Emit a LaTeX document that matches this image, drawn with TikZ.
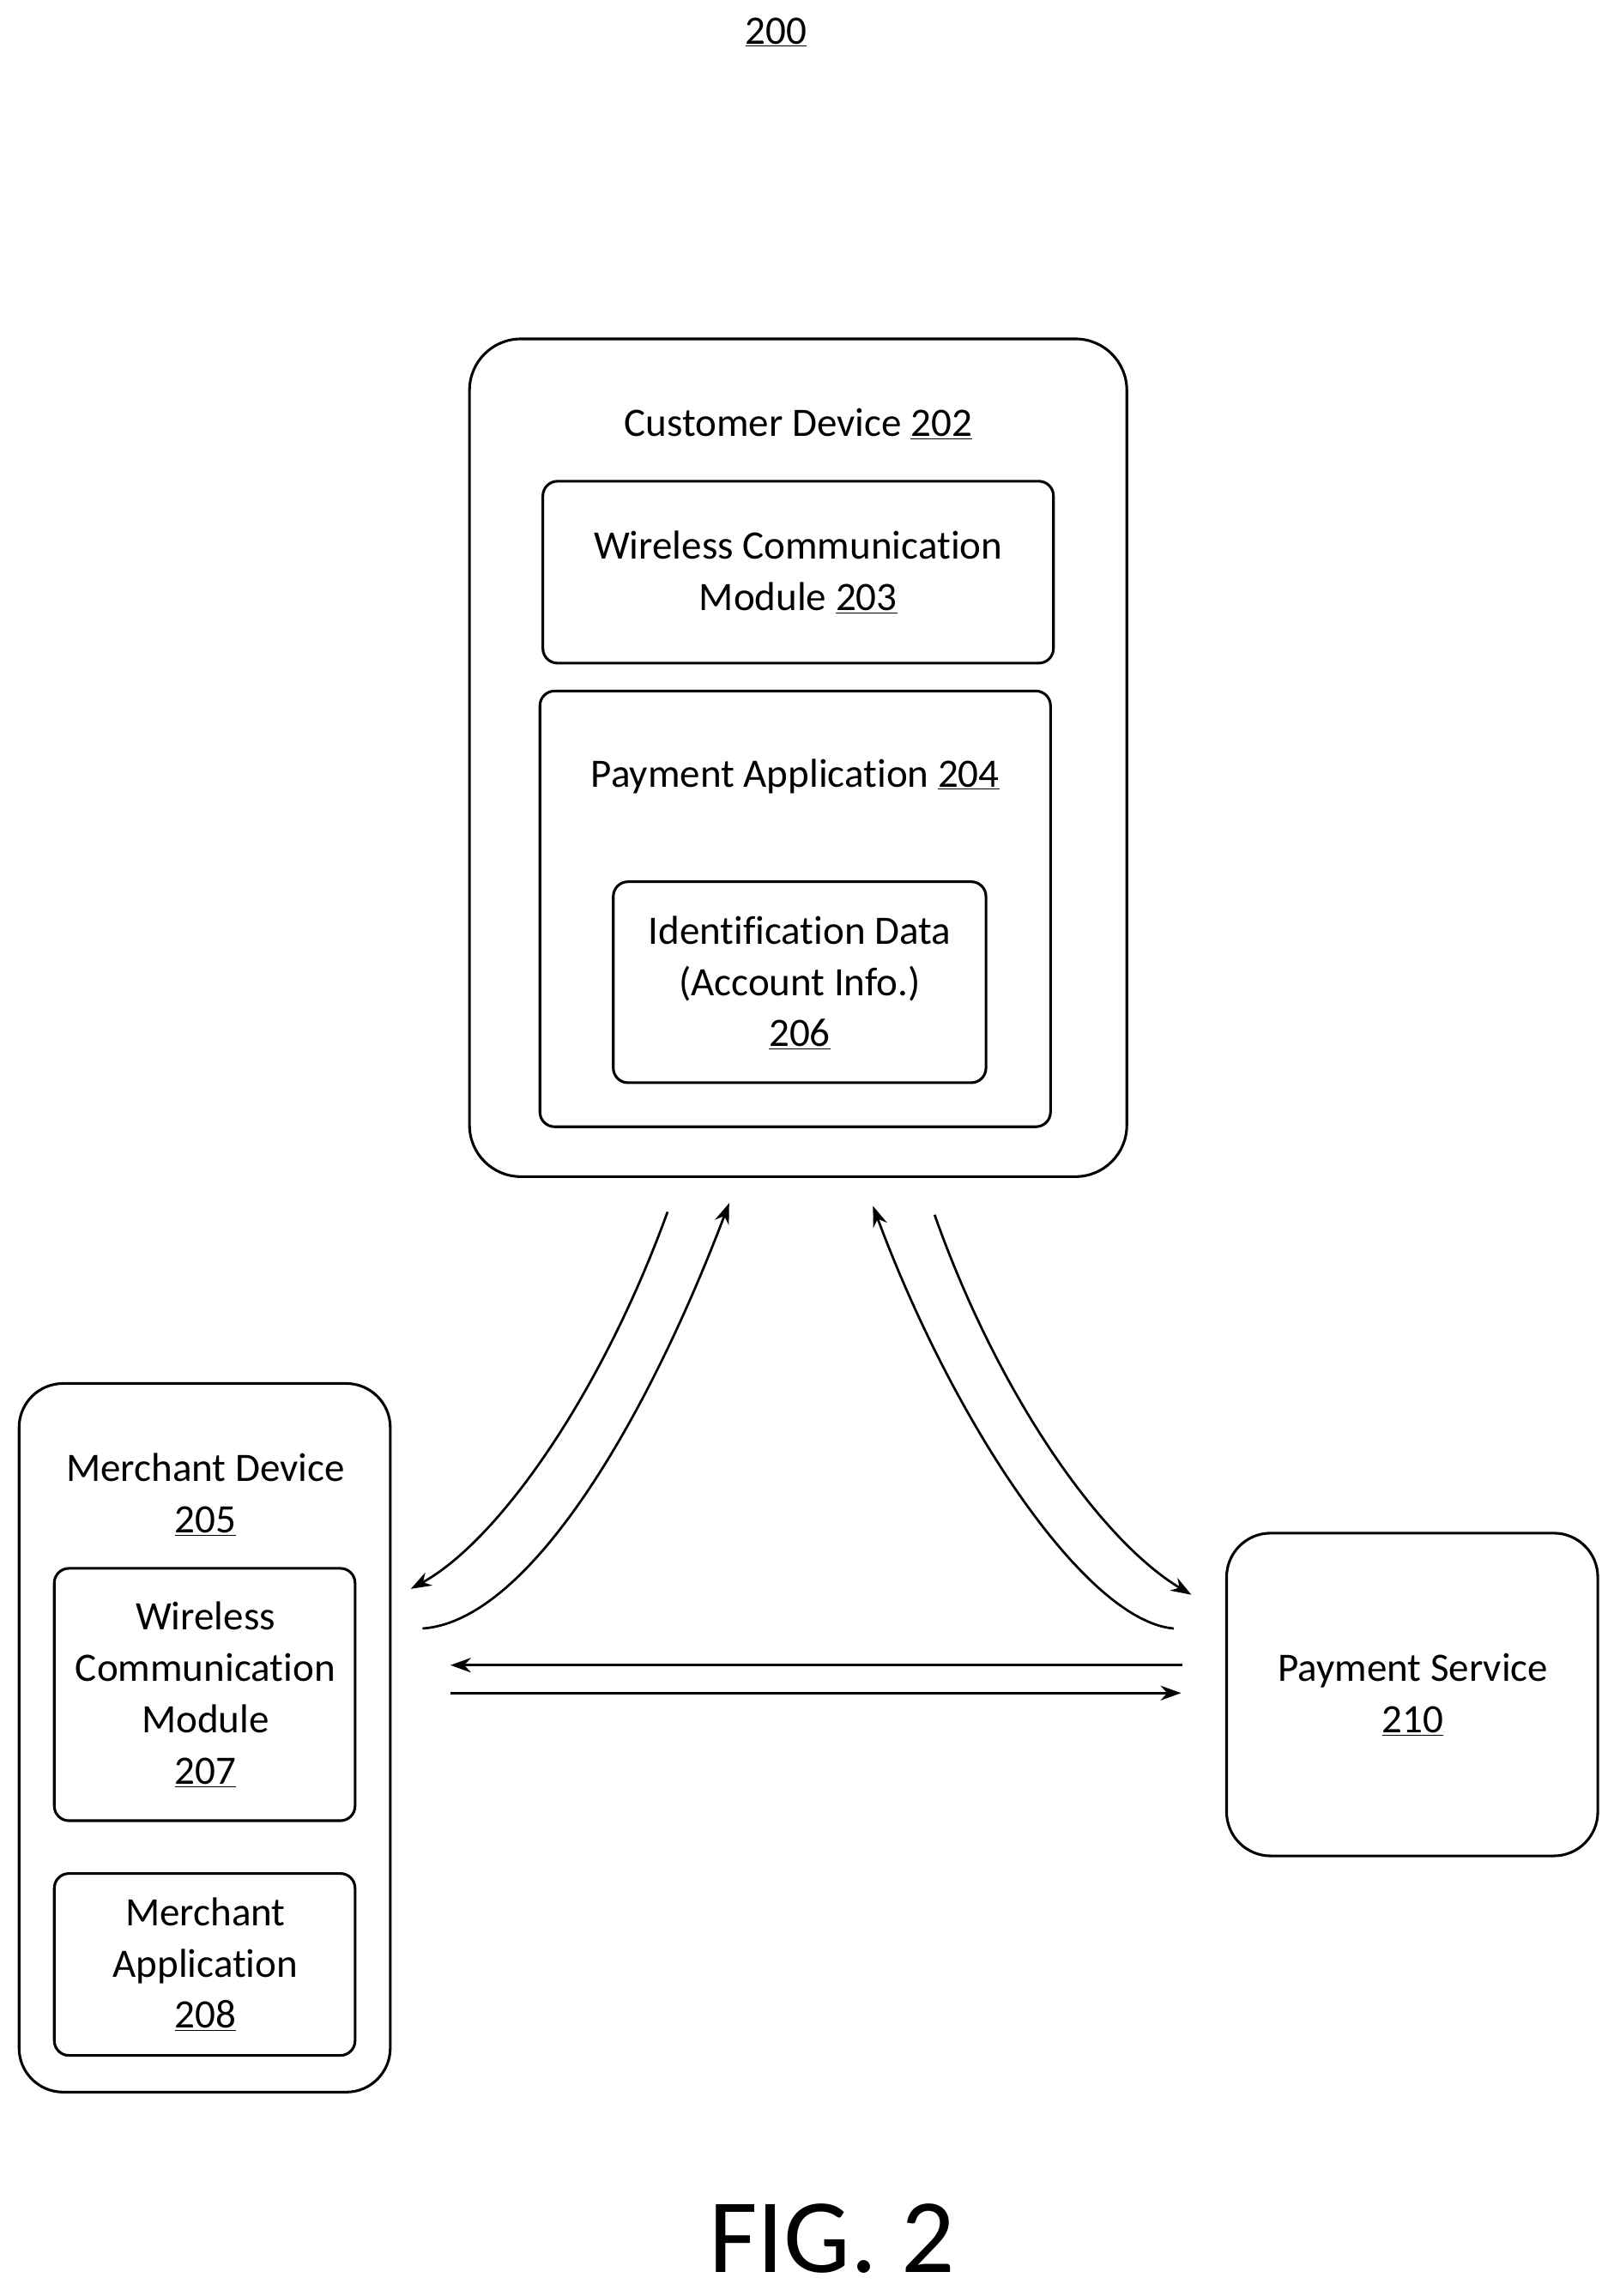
\documentclass[tikz,border=0pt]{standalone}
\usepackage{fontspec}
\setmainfont[Ligatures=NoCommon]{Carlito}
\usetikzlibrary{arrows.meta}
\begin{document}
\begin{tikzpicture}[x=1pt,y=-1pt,
 box/.style={draw,line width=1.8pt,rounded corners=#1},
 box/.default=10pt,
 lbl/.style={align=center,font=\fontsize{27.5}{35}\selectfont},
 arr/.style={line width=1.6pt,-{Stealth[length=14pt,width=10pt]}}]
\useasboundingbox (0,0) rectangle (1100,1565);
\node[lbl] (t200) at (529,22) {\underline{200}};
\draw[box=35pt] (320,231) rectangle (768,802);
\node[lbl] (cd) at (544,289) {Customer Device \underline{202}};
\draw[box] (370,328) rectangle (718,452);
\node[lbl] (w203) at (544,390) {Wireless Communication\\Module \underline{203}};
\draw[box] (368,471) rectangle (716,768);
\node[lbl] (p204) at (542,529) {Payment Application \underline{204}};
\draw[box] (418,601) rectangle (672,738);
\node[lbl] (i206) at (545,670) {Identification Data\\(Account Info.)\\\underline{206}};
\draw[box=30pt] (13,943) rectangle (266,1426);
\node[lbl] (m205) at (140,1019) {Merchant Device\\\underline{205}};
\draw[box] (37,1069) rectangle (242,1241);
\node[lbl] (w207) at (140,1155) {Wireless\\Communication\\Module\\\underline{207}};
\draw[box] (37,1277) rectangle (242,1401);
\node[lbl] (m208) at (140,1339) {Merchant\\Application\\\underline{208}};
\draw[box=30pt] (836,1045) rectangle (1089,1265);
\node[lbl] (ps) at (963,1155) {Payment Service\\\underline{210}};
\node[font=\fontsize{72}{80}\selectfont] (fig) at (567,1526) {FIG. 2};
\coordinate (a1) at (455,826); \coordinate (a2) at (280,1083);
\coordinate (b1) at (288,1110); \coordinate (b2) at (497,820);
\coordinate (c1) at (800,1110); \coordinate (c2) at (595,822);
\coordinate (d1) at (637,828); \coordinate (d2) at (812,1087);
\coordinate (e1) at (806,1135); \coordinate (e2) at (307,1135);
\coordinate (f1) at (307,1154); \coordinate (f2) at (805,1154);
\draw[arr] (a1) .. controls (410,950) and (340,1050) .. (a2);
\draw[arr] (b1) .. controls (360,1105) and (440,970) .. (b2);
\draw[arr] (c1) .. controls (740,1105) and (650,970) .. (c2);
\draw[arr] (d1) .. controls (680,950) and (750,1050) .. (d2);
\draw[arr] (e1) -- (e2);
\draw[arr] (f1) -- (f2);
\end{tikzpicture}
\end{document}
